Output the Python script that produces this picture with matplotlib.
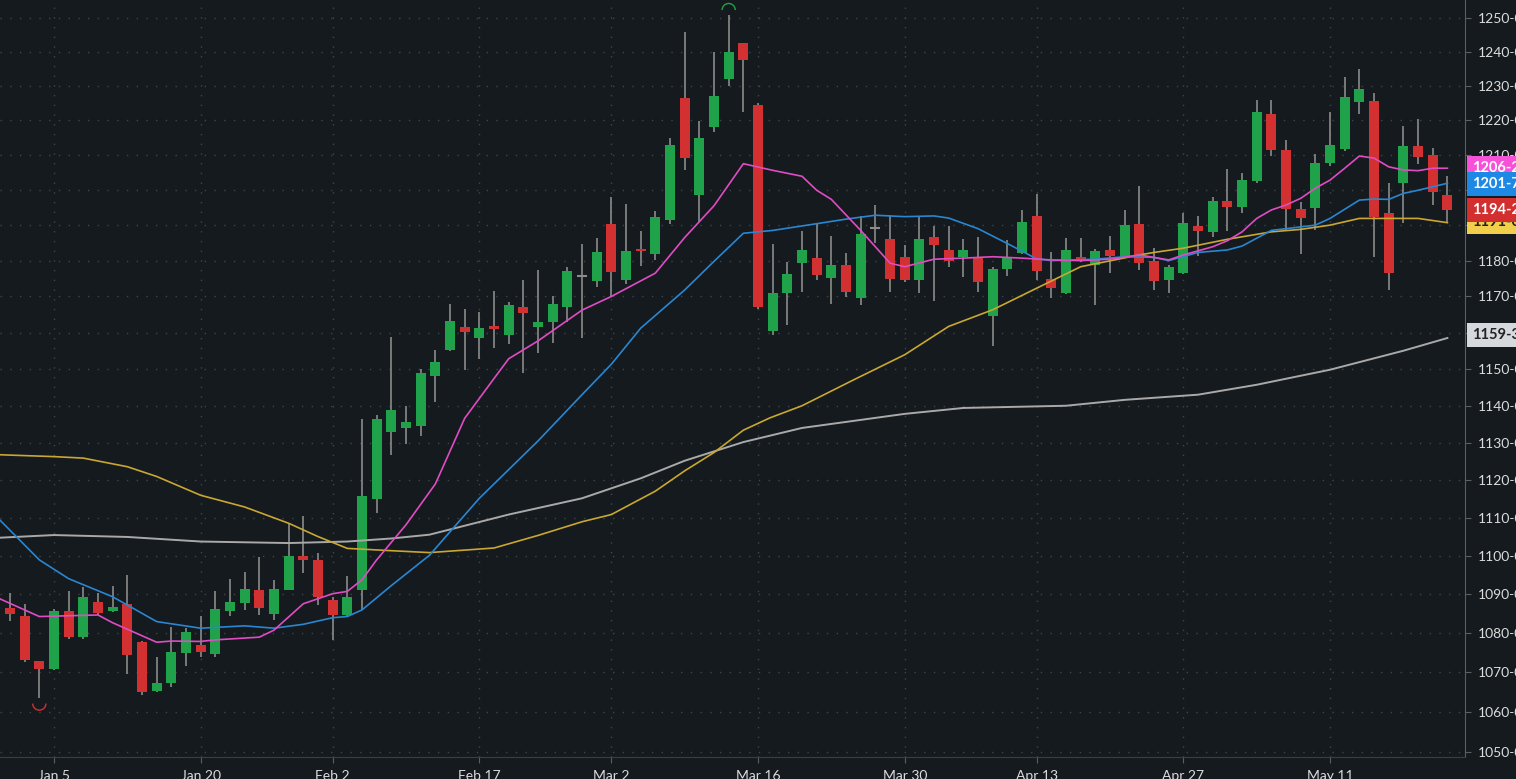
import numpy as np
import matplotlib
matplotlib.use("Agg")
import matplotlib.pyplot as plt
import matplotlib.path as mpath
from matplotlib.ticker import FixedLocator, FuncFormatter, NullLocator

plt.rcParams['font.family'] = ['Lato', 'DejaVu Sans']

# ---------------------------------- data ------------------------------------
opens = [1086.6, 1084.5, 1072.8, 1070.9, 1085.7, 1079.1, 1088.1, 1085.7, 1087.5, 1077.8,
         1065.3, 1067.4, 1075.0, 1077.0, 1074.7, 1085.7, 1087.7, 1091.2, 1085.0, 1091.2,
         1100.1, 1099.0, 1088.6, 1084.7, 1091.2, 1115.0, 1132.8, 1134.1, 1134.5, 1148.0,
         1155.1, 1161.4, 1158.6, 1161.7, 1159.4, 1167.0, 1161.5, 1163.0, 1167.0, 1175.8,
         1174.2, 1190.2, 1174.6, 1183.4, 1182.0, 1191.5, 1226.5, 1198.5, 1218.1, 1232.0,
         1242.6, 1224.5, 1160.4, 1170.9, 1179.2, 1180.7, 1175.1, 1178.9, 1169.5, 1189.2,
         1186.0, 1180.9, 1174.6, 1186.7, 1182.9, 1181.0, 1180.6, 1164.7, 1177.6, 1182.2,
         1192.5, 1174.9, 1171.0, 1180.9, 1178.7, 1183.0, 1181.1, 1190.2, 1179.9, 1174.6,
         1176.4, 1189.7, 1188.0, 1196.7, 1195.2, 1202.6, 1221.7, 1211.4, 1194.7, 1194.9,
         1207.7, 1211.6, 1225.3, 1225.6, 1193.5, 1201.9, 1212.7, 1209.9, 1198.6]
highs = [1090.4, 1087.5, 1072.8, 1086.2, 1090.9, 1091.9, 1090.4, 1092.1, 1095.0, 1078.0,
         1073.8, 1081.7, 1081.3, 1084.5, 1090.9, 1094.0, 1095.9, 1099.8, 1093.7, 1108.3,
         1110.5, 1100.7, 1089.4, 1094.8, 1136.5, 1137.4, 1158.8, 1139.9, 1150.0, 1155.3,
         1167.8, 1166.5, 1165.8, 1171.6, 1168.5, 1174.6, 1177.5, 1170.0, 1178.2, 1184.8,
         1186.3, 1198.1, 1195.9, 1188.2, 1194.1, 1214.9, 1245.8, 1219.8, 1240.0, 1251.0,
         1242.6, 1225.0, 1184.8, 1179.7, 1188.3, 1190.6, 1186.8, 1182.2, 1192.6, 1195.6,
         1193.0, 1184.5, 1192.5, 1189.7, 1189.7, 1186.0, 1186.7, 1178.3, 1185.8, 1194.3,
         1198.8, 1182.5, 1186.3, 1186.5, 1183.2, 1186.9, 1194.4, 1201.1, 1183.5, 1178.7,
         1193.4, 1192.5, 1198.1, 1206.1, 1204.8, 1226.0, 1225.8, 1214.4, 1196.6, 1210.3,
         1222.5, 1232.7, 1234.9, 1227.9, 1201.9, 1218.5, 1220.5, 1211.9, 1203.9]
lows = [1083.2, 1072.7, 1063.5, 1070.7, 1078.4, 1078.6, 1084.7, 1085.4, 1069.6, 1064.2,
        1065.0, 1066.4, 1071.5, 1074.0, 1074.0, 1084.5, 1086.0, 1084.7, 1083.4, 1091.2,
        1095.7, 1087.3, 1078.3, 1084.5, 1086.0, 1111.2, 1126.6, 1129.7, 1131.7, 1140.9,
        1154.8, 1149.6, 1152.7, 1155.8, 1156.8, 1149.0, 1154.5, 1157.0, 1163.0, 1158.6,
        1172.6, 1170.0, 1173.4, 1178.4, 1180.1, 1190.2, 1205.8, 1191.0, 1216.5, 1230.0,
        1222.4, 1166.5, 1159.3, 1162.2, 1171.2, 1174.6, 1167.8, 1169.9, 1167.6, 1185.0,
        1171.1, 1174.0, 1170.9, 1168.6, 1178.3, 1175.4, 1171.3, 1156.2, 1175.6, 1182.0,
        1174.6, 1169.6, 1170.8, 1179.5, 1167.6, 1176.4, 1180.8, 1177.5, 1171.9, 1170.9,
        1176.2, 1181.4, 1186.7, 1188.3, 1193.3, 1201.9, 1209.8, 1188.5, 1182.0, 1188.7,
        1206.7, 1211.2, 1221.9, 1181.0, 1171.7, 1190.6, 1207.3, 1195.7, 1190.9]
closes = [1085.0, 1073.2, 1070.9, 1085.8, 1079.1, 1089.4, 1085.2, 1086.8, 1074.5, 1064.9,
          1067.2, 1075.2, 1080.2, 1075.2, 1086.3, 1088.1, 1091.5, 1086.4, 1091.5, 1100.1,
          1098.9, 1089.4, 1084.7, 1089.4, 1115.9, 1136.5, 1138.8, 1135.7, 1149.0, 1151.9,
          1163.2, 1160.1, 1161.2, 1161.0, 1167.5, 1165.5, 1163.0, 1167.8, 1177.0, 1175.8,
          1182.4, 1176.7, 1182.8, 1182.6, 1192.2, 1212.8, 1209.0, 1214.8, 1227.2, 1240.0,
          1237.5, 1167.1, 1170.9, 1176.2, 1183.0, 1176.1, 1178.7, 1171.1, 1187.4, 1189.2,
          1174.8, 1174.6, 1186.0, 1184.4, 1180.0, 1183.0, 1174.0, 1177.6, 1180.6, 1191.0,
          1177.2, 1172.3, 1183.0, 1180.1, 1182.7, 1181.4, 1189.9, 1179.2, 1174.4, 1178.1,
          1190.7, 1188.3, 1196.7, 1195.2, 1202.9, 1222.5, 1211.4, 1194.5, 1191.9, 1207.8,
          1212.9, 1226.8, 1229.1, 1192.2, 1176.6, 1212.7, 1209.3, 1199.5, 1194.2]

# moving averages (bar index, price)
pink_idx = [-1, 2, 3, 6, 7, 10, 11, 13, 14, 17, 18, 20, 22, 23, 24, 25, 27, 29, 31, 33, 34, 36,
            39, 41, 44, 46, 48, 50, 52, 54, 55, 56, 58, 60, 61, 63, 65, 67, 69, 71, 73, 75,
            77, 79, 80, 82, 83, 84, 85, 86, 87, 88, 89, 90, 91, 92, 93, 94, 95, 96, 97, 98]
pink_val = [1089.4, 1084.3, 1084.4, 1084.7, 1082.7, 1077.7, 1078.0, 1077.9, 1078.3, 1079.0,
            1080.8, 1087.6, 1090.2, 1090.8, 1093.8, 1099.0, 1108.2, 1119.0, 1136.6, 1147.4,
            1152.8, 1157.7, 1166.2, 1170.0, 1176.5, 1186.5, 1195.5, 1207.5, 1205.6, 1203.9,
            1199.9, 1197.3, 1188.5, 1179.3, 1178.3, 1180.4, 1180.7, 1181.1, 1180.7, 1180.2,
            1180.0, 1180.4, 1181.6, 1180.2, 1181.6, 1183.9, 1185.6, 1188.1, 1191.9, 1194.3,
            1195.7, 1197.6, 1200.5, 1202.8, 1206.2, 1209.7, 1209.1, 1206.6, 1205.7, 1205.5,
            1206.2, 1206.2]
blue_idx = [-0.7, 2, 4, 7, 10, 13, 16, 18, 20, 22, 23, 24, 26, 28.6, 32, 36, 39, 41, 43, 46,
            48, 50, 52, 55, 57, 59, 61, 63, 64, 66, 68, 70, 71, 74, 76, 78, 79, 81, 83, 84,
            86, 88, 89, 90, 92, 93, 94, 95, 96, 98]
blue_val = [1109.5, 1099.0, 1094.1, 1089.4, 1083.0, 1081.3, 1081.9, 1081.3, 1082.3, 1084.0,
            1084.3, 1086.0, 1092.3, 1100.2, 1115.2, 1130.5, 1143.0, 1151.3, 1161.2, 1171.8,
            1179.8, 1187.7, 1188.5, 1190.4, 1191.7, 1192.8, 1192.4, 1192.6, 1192.0, 1189.0,
            1184.8, 1180.5, 1180.0, 1180.4, 1181.1, 1180.9, 1180.0, 1182.3, 1183.0, 1184.1,
            1188.5, 1189.5, 1190.0, 1191.9, 1197.1, 1197.4, 1197.3, 1199.0, 1199.9, 1201.9]
yellow_idx = [-0.7, 3, 5, 8, 10, 13, 16, 19, 21, 23, 26, 28.6, 33, 36, 39, 41, 44, 46, 48, 50,
              51.8, 54, 57.5, 61, 64, 67, 70, 73, 77, 78, 80, 83, 86, 88, 90, 92, 94, 96, 98]
yellow_val = [1126.8, 1126.3, 1125.9, 1123.6, 1121.0, 1116.0, 1112.9, 1108.6, 1105.1, 1102.0,
              1101.4, 1100.9, 1102.1, 1105.4, 1109.0, 1110.9, 1117.1, 1122.5, 1127.4, 1133.4,
              1136.7, 1140.0, 1147.0, 1153.9, 1161.7, 1166.3, 1172.3, 1178.3, 1181.6, 1182.3,
              1183.5, 1186.0, 1188.1, 1188.8, 1190.0, 1191.9, 1191.9, 1191.9, 1190.7]
gray_idx = [-0.7, 3, 8, 13, 19, 23, 26, 28.6, 34, 39, 43, 46, 50, 54, 61, 65, 72, 76, 81, 85,
            90, 95, 98]
gray_val = [1104.8, 1105.5, 1105.0, 1103.8, 1103.4, 1103.8, 1104.6, 1105.6, 1110.9, 1115.2,
            1120.5, 1125.2, 1130.2, 1134.0, 1137.8, 1139.4, 1140.0, 1141.6, 1143.0, 1145.7,
            1149.8, 1155.0, 1158.5]

date_idx = [3, 13, 22, 32, 41, 51, 61, 70, 80, 90]
date_labels = ['Jan 5', 'Jan 20', 'Feb 2', 'Feb 17', 'Mar 2', 'Mar 16', 'Mar 30',
               'Apr 13', 'Apr 27', 'May 11']
price_ticks = list(range(1050, 1251, 10))

last_labels = [('1191-0', 1191.0, '#f2cf4a', '#222222'),
               ('1159-3', 1159.3, '#d5d9dd', '#222222'),
               ('1206-2', 1206.2, '#f552d8', 'white'),
               ('1201-7', 1201.7, '#1e88e5', 'white'),
               ('1194-2', 1194.2, '#d32f2f', 'white')]

# ---------------------------------- figure ----------------------------------
bg = '#151a1e'
up_c, down_c, doji_c, wick_c = '#1fa24a', '#d33131', '#8c8c8c', '#8a8a8a'

fig = plt.figure(figsize=(15.16, 7.79), dpi=100, facecolor=bg)
ax = fig.add_axes([0, 22 / 779, 1465 / 1516, 757 / 779], facecolor=bg)
ax.set_yscale('log')

idx = np.arange(len(opens))
for i in idx:
    o, h, l, c = opens[i], highs[i], lows[i], closes[i]
    col = up_c if c > o else (down_c if c < o else doji_c)
    ax.vlines(i, l, h, color=wick_c, lw=1.2, zorder=2)
    lo, hi = min(o, c), max(o, c)
    if hi - lo < 0.5:
        ax.hlines(o, i - 0.34, i + 0.34, color=col, lw=1.5, zorder=3)
    else:
        ax.bar(i, hi - lo, bottom=lo, width=0.68, color=col, zorder=3, linewidth=0)

ax.plot(gray_idx, gray_val, color='#a9a9a9', lw=1.4, zorder=4)
ax.plot(yellow_idx, yellow_val, color='#c9a731', lw=1.2, zorder=4)
ax.plot(blue_idx, blue_val, color='#2a86d1', lw=1.2, zorder=4)
ax.plot(pink_idx, pink_val, color='#e04cc4', lw=1.2, zorder=4)

# swing markers: low under bar 2, high over bar 49
arc_low = mpath.Path.arc(180, 360)
arc_high = mpath.Path.arc(0, 180)
ax.scatter([2], [lows[2] - 1.4], marker=arc_low, s=90, facecolors='none',
           edgecolors='#d33131', linewidths=1, zorder=5)
ax.scatter([49], [highs[49] + 1.4], marker=arc_high, s=90, facecolors='none',
           edgecolors='#1fa24a', linewidths=1, zorder=5)

ax.set_xlim(-0.68, 99.2)
ax.set_ylim(1048.7, 1255.4)

ax.yaxis.set_major_locator(FixedLocator(price_ticks))
ax.yaxis.set_minor_locator(NullLocator())
ax.yaxis.set_major_formatter(FuncFormatter(lambda v, p: '%d-00' % round(v)))
ax.yaxis.tick_right()
ax.set_xticks(date_idx)
ax.set_xticklabels(date_labels)
ax.tick_params(axis='y', colors='#dcdcdc', labelsize=10, length=4, width=0.8,
               pad=5, color='#5a5f63')
ax.tick_params(axis='x', colors='#dcdcdc', labelsize=10, length=4, width=0.8,
               pad=5, color='#5a5f63')
for lab in ax.get_xticklabels() + ax.get_yticklabels():
    lab.set_color('#dcdcdc')

ax.grid(True, which='major', color='#3f4549', linestyle=(0, (1, 6)), lw=1)
for s in ['top', 'left']:
    ax.spines[s].set_visible(False)
ax.spines['right'].set_color('#5a5f63')
ax.spines['bottom'].set_color('#3a3f43')

for txt, val, fc, tc in last_labels:
    ax.annotate(txt, xy=(1.0, val), xycoords=('axes fraction', 'data'),
                xytext=(5, 0), textcoords='offset points', va='center', ha='left',
                color=tc, fontsize=10.5, fontweight='bold', annotation_clip=False,
                bbox=dict(boxstyle='square,pad=0.35', fc=fc, ec='none'))

fig.savefig('out.png', dpi=100, facecolor=bg)
